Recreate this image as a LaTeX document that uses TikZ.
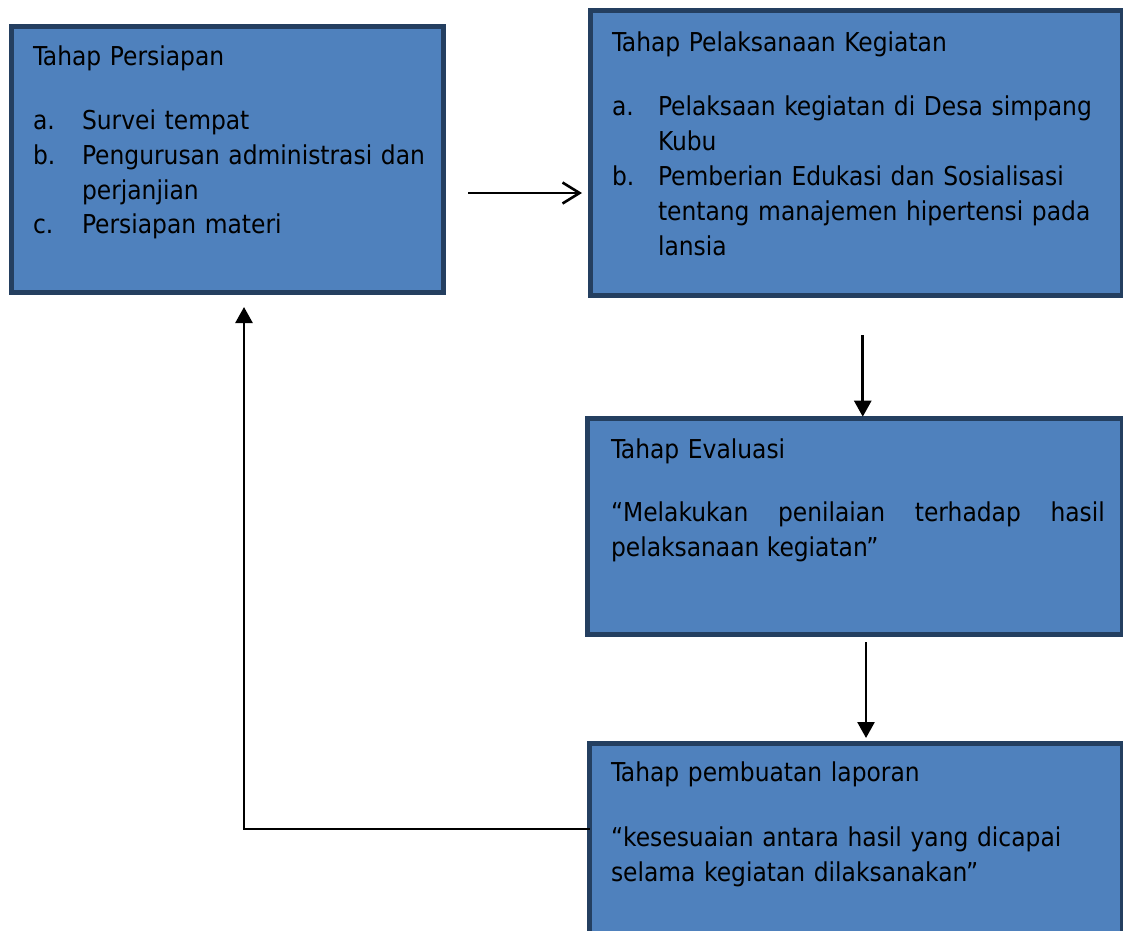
\documentclass[tikz,border=0pt]{standalone}
\usepackage{fontspec}
\setmainfont{DejaVu Sans Condensed}
\usetikzlibrary{arrows.meta,calc}

\definecolor{stage fill color}{HTML}{4F81BD}
\definecolor{stage border color}{HTML}{243F60}
\tikzset{
    x={1pt},
    y={-1pt},
    stage/.style={
        draw=stage border color,
        fill=stage fill color,
        line width={5pt},
        anchor=north west,
        inner sep=0pt,
        outer sep=0pt,
    },
    stage text/.style={
        anchor=base west,
        inner sep=0pt,
        outer sep=0pt,
        font={\fontsize{26}{35}\selectfont},
        align=left,
        text width={#1},
    },
    stage text/.default={480},
    flow/.style={
        draw=black,
        line width={2.6pt},
    },
    flow arrow/.style={
        flow,
        -{Triangle[length=16pt, width=17pt]},
    },
    flow barb/.style={
        flow,
        -{Straight Barb[length=17pt, width=21pt]},
    },
}

\begin{document}
\begin{tikzpicture}
\clip (0,0) rectangle (1123,930);
\coordinate (return row) at (0,829);
% stages
\node[stage, minimum width={432}, minimum height={266}] (persiapan) at (11.5,26.5) {};
\node[stage, minimum width={532.5}, minimum height={285}] (pelaksanaan) at (590,10.5) {};
\node[stage, minimum width={535}, minimum height={216.3}] (evaluasi) at (587.5,418.2) {};
\node[stage, minimum width={533}, minimum height={230}] (laporan) at (589.5,743.5) {};
% texts
\node[stage text] (persiapan title) at (33,65.7) {Tahap Persiapan};
\node[stage text=40] (persiapan a) at (33,129) {a.};
\node[stage text=350] (survei) at (82,129) {Survei tempat};
\node[stage text=40] (persiapan b) at (33,164) {b.};
\node[stage text=350] (pengurusan) at (82,164) {Pengurusan administrasi dan\\perjanjian};
\node[stage text=40] (persiapan c) at (33,233) {c.};
\node[stage text=350] (materi) at (82,233) {Persiapan materi};
\node[stage text] (pelaksanaan title) at (612,51.7) {Tahap Pelaksanaan Kegiatan};
\node[stage text=40] (pelaksanaan a) at (612,115) {a.};
\node[stage text=440] (desa) at (658,115) {Pelaksaan kegiatan di Desa simpang\\Kubu};
\node[stage text=40] (pelaksanaan b) at (612,185) {b.};
\node[stage text=440] (edukasi) at (658,185) {Pemberian Edukasi dan Sosialisasi\\tentang manajemen hipertensi pada\\lansia};
\node[stage text] (evaluasi title) at (611,458.5) {Tahap Evaluasi};
\node[stage text=494, align=justify] (penilaian) at (611,521.5) {“Melakukan penilaian terhadap hasil\linebreak pelaksanaan kegiatan”};
\node[stage text] (laporan title) at (611,781.7) {Tahap pembuatan laporan};
\node[stage text=494] (kesesuaian) at (611,846.7) {“kesesuaian antara hasil yang dicapai\\selama kegiatan dilaksanakan”};
% flow
\draw[flow barb, shorten >=8pt] ($(persiapan.east)+(24.5,33.5)$) coordinate (barb start) -- (barb start -| pelaksanaan.west);
\draw[flow arrow, shorten >=1.5pt] ($(pelaksanaan.south)+(6.5,39.5)$) coordinate (eval start) -- (eval start |- evaluasi.north);
\draw[flow arrow, shorten >=5.5pt] ($(evaluasi.south)+(11,7.5)$) coordinate (report start) -- (report start |- laporan.north);
\draw[flow arrow] (laporan.west |- return row) -| ($(persiapan.south)+(16.5,14.5)$);
\end{tikzpicture}
\end{document}
